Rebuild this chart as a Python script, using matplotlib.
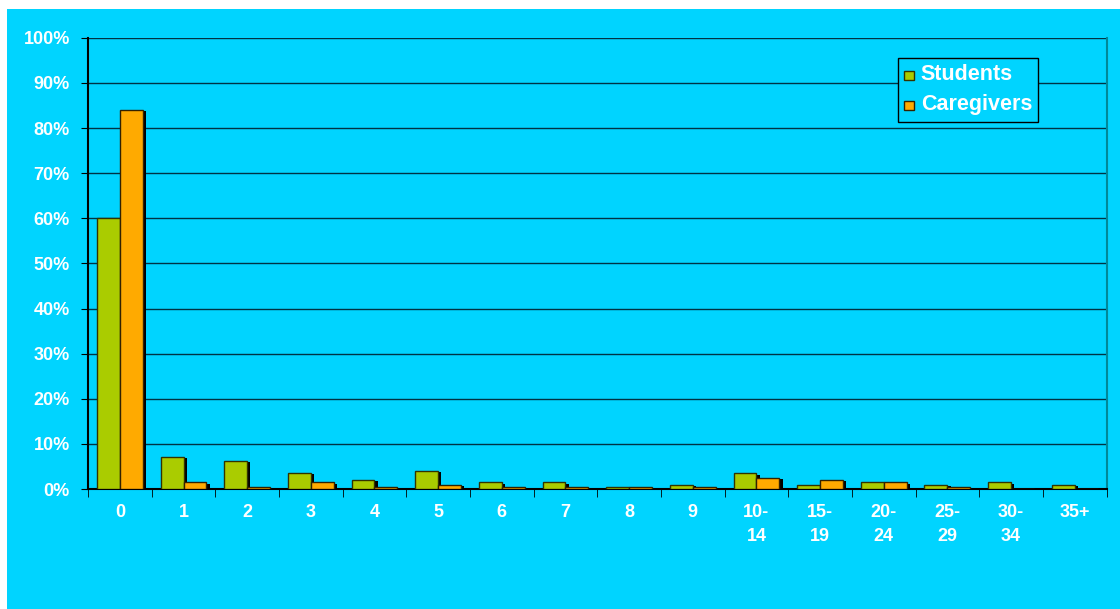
import matplotlib
matplotlib.use('Agg')
import matplotlib.pyplot as plt
import matplotlib.patches as patches
import numpy as np

categories = ['0', '1', '2', '3', '4', '5', '6', '7', '8', '9',
              '10-\n14', '15-\n19', '20-\n24', '25-\n29', '30-\n34', '35+']
students = [60, 7.2, 6.2, 3.6, 2.0, 4.0, 1.5, 1.5, 0.4, 1.0, 3.5, 1.0, 1.5, 1.0, 1.5, 1.0]
caregivers = [84, 1.5, 0.4, 1.5, 0.4, 1.0, 0.4, 0.4, 0.4, 0.4, 2.5, 2.0, 1.5, 0.4, 0, 0]

BG = '#00D4FF'
GREEN = '#AACC00'
ORANGE = '#FFAA00'

plt.rcParams['font.family'] = ['Liberation Sans', 'DejaVu Sans']

fig = plt.figure(figsize=(11.2, 6.09), dpi=100, facecolor='white')
# cyan chart area with a thin white margin on the top and left
bg_rect = patches.Rectangle((7 / 1120, 0), 1 - 7 / 1120, 1 - 9 / 609,
                            transform=fig.transFigure, facecolor=BG,
                            edgecolor='none', zorder=-10)
fig.add_artist(bg_rect)
ax = fig.add_axes([0.0786, 0.197, 0.9094, 0.741], facecolor=BG)

x = np.arange(len(categories))
w = 0.36
shadow_dx = 0.05

# drop shadows
for vals, off in ((students, -w / 2), (caregivers, w / 2)):
    v = np.array(vals)
    mask = v > 0
    ax.bar(x[mask] + off + shadow_dx, v[mask] - 0.3, w, bottom=0,
           color='black', zorder=2, linewidth=0)

ax.bar(x - w / 2, students, w, color=GREEN, edgecolor='#333300',
       linewidth=1, zorder=3, label='Students')
ax.bar(x + w / 2, caregivers, w, color=ORANGE, edgecolor='#332200',
       linewidth=1, zorder=3, label='Caregivers')

ax.set_xlim(-0.5, len(categories) - 0.5)
ax.set_ylim(0, 100)
ax.set_yticks(np.arange(0, 101, 10))
ax.set_yticklabels([f'{v}%' for v in range(0, 101, 10)])
ax.yaxis.grid(True, color='#003344', linewidth=1)
ax.set_axisbelow(True)

ax.set_xticks(x)
ax.set_xticklabels(categories, va='top', linespacing=1.5)
ax.set_xticks(np.arange(-0.5, len(categories), 1), minor=True)
ax.tick_params(axis='x', which='major', length=0, pad=11)
ax.tick_params(axis='x', which='minor', length=6, color='black', direction='out')
ax.tick_params(axis='y', length=5, color='black', direction='out', pad=8)
for lbl in ax.get_xticklabels() + ax.get_yticklabels():
    lbl.set_color('white')
    lbl.set_fontweight('bold')
    lbl.set_fontsize(13)

for side in ('left', 'bottom'):
    ax.spines[side].set_color('black')
    ax.spines[side].set_linewidth(1.5)
ax.spines['top'].set_visible(False)
ax.spines['right'].set_color('#008899')
ax.spines['right'].set_linewidth(1.5)

leg = ax.legend(loc='upper left', bbox_to_anchor=(0.795, 0.955), frameon=True,
                fancybox=False, edgecolor='black', facecolor=BG, framealpha=1,
                handlelength=0.7, handleheight=0.7, handletextpad=0.5,
                borderpad=0.45, labelspacing=0.65, borderaxespad=0)
leg.get_frame().set_linewidth(1)
for t in leg.get_texts():
    t.set_color('white')
    t.set_fontweight('bold')
    t.set_fontsize(15.5)

fig.savefig('out.png', dpi=100, facecolor='white')
